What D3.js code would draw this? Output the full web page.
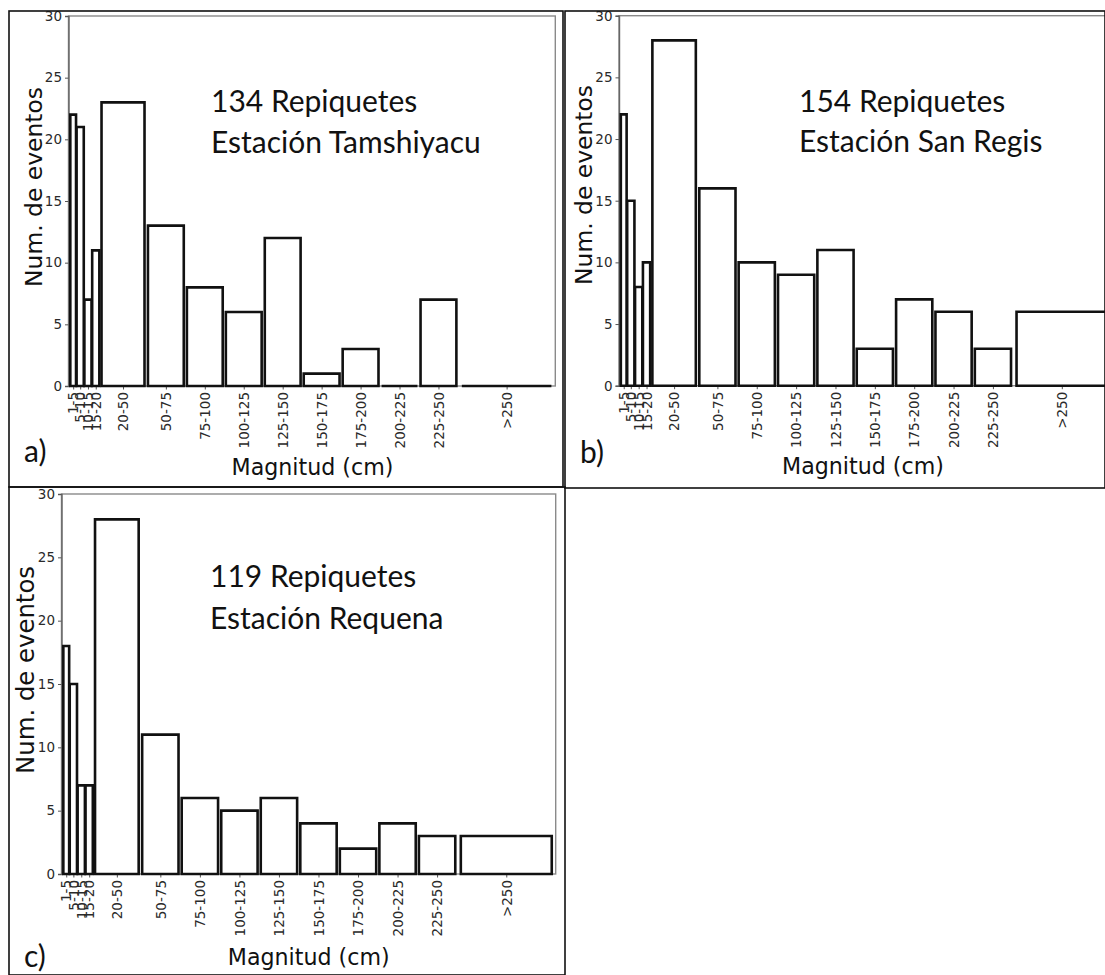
<!DOCTYPE html>
<html>
<head>
<meta charset="utf-8">
<script src="https://cdn.jsdelivr.net/npm/d3@7"></script>
<style>
  body { margin: 0; background: #fff; }
  svg { display: block; }
</style>
</head>
<body>
<div id="chart"></div>
<script>
// magnitude bins (cm) and event counts per station
var binLabels = ['1-5','5-10','10-15','15-20','20-50','50-75','75-100','100-125','125-150','150-175','175-200','200-225','225-250','>250'];
var binLo = [1, 5, 10, 15, 20, 50, 75, 100, 125, 150, 175, 200, 225, 250];
var binHi = [5, 10, 15, 20, 50, 75, 100, 125, 150, 175, 200, 225, 250, 312.5];

var tamshiyacu = [22, 21, 7, 11, 23, 13, 8, 6, 12, 1, 3, 0, 7, 0];
var sanRegis   = [22, 15, 8, 10, 28, 16, 10, 9, 11, 3, 7, 6, 3, 6];
var requena    = [18, 15, 7, 7, 28, 11, 6, 5, 6, 4, 2, 4, 3, 3];

var yTicks = [0, 5, 10, 15, 20, 25, 30];
var stations = ['Estación Tamshiyacu', 'Estación San Regis', 'Estación Requena'];
var letters = ['a)', 'b)', 'c)'];
var xTitle = 'Magnitud (cm)';
var yTitle = 'Num. de eventos';

var W = 1105, H = 975;
var barFrac = 0.92;      // bar width as part of the bin
var noteFont = 'Lato, Carlito, Calibri, sans-serif';
var mplFont = '"DejaVu Sans", sans-serif';

// where each pasted figure sits on the page
var layout = [
  {counts: tamshiyacu, frame: [9, 11, 563, 487], plot: [68.5, 16, 555.3, 386],
   ylab: [42, 187], xlab: [312.5, 475], letter: [24, 462], note: [211, 112, 153]},
  {counts: sanRegis, frame: [565, 11, 1105, 488], plot: [619, 15.7, 1111, 385.7],
   ylab: [592, 185], xlab: [863, 474], letter: [580, 463], note: [799, 112, 152]},
  {counts: requena, frame: [9, 487, 565, 975], plot: [61.5, 494, 555.7, 874],
   ylab: [34, 670], xlab: [308.7, 965], letter: [24, 967], note: [210, 587, 629]}
];

var svg = d3.select('#chart')
  .append('svg')
  .attr('width', W)
  .attr('height', H);

svg.append('rect')
  .attr('width', W)
  .attr('height', H)
  .attr('fill', '#fff');

function fitText(sel, width) {
  var len = sel.node().getComputedTextLength();
  var fs = parseFloat(sel.attr('font-size'));
  sel.attr('font-size', fs * width / len);
}

function drawPanel(p, i) {
  var g = svg.append('g');
  var L = p.plot[0], T = p.plot[1], R = p.plot[2], B = p.plot[3];

  var x = d3.scaleLinear().domain([0, 312.5]).range([L, R]);
  var y = d3.scaleLinear().domain([0, 30]).range([B, T]);

  // plot box (spines)
  g.append('rect')
    .attr('x', L).attr('y', T)
    .attr('width', R - L).attr('height', B - T)
    .attr('fill', 'none')
    .attr('stroke', '#8a8a8a')
    .attr('stroke-width', 1.4);

  // y axis
  var yAxis = g.append('g')
    .attr('transform', 'translate(' + L + ',0)')
    .call(d3.axisLeft(y).tickValues(yTicks).tickSize(3.5).tickPadding(3));
  yAxis.select('.domain').attr('stroke', '#666').attr('stroke-width', 1.4);
  yAxis.selectAll('.tick line').attr('stroke', '#555');
  yAxis.selectAll('.tick text')
    .style('font-family', mplFont)
    .style('font-size', '13.5px')
    .attr('fill', '#2a2a2a');

  // x ticks at bin centres
  var centers = binLo.map(function(lo, k) { return (lo + binHi[k]) / 2; });
  var xAxis = g.append('g')
    .attr('transform', 'translate(0,' + B + ')')
    .call(d3.axisBottom(x).tickValues(centers).tickSize(3.5).tickPadding(3)
      .tickFormat(function(d, k) { return binLabels[k]; }));
  xAxis.select('.domain').remove();
  xAxis.selectAll('.tick line').attr('stroke', '#555');
  xAxis.selectAll('.tick text')
    .style('font-family', mplFont)
    .style('font-size', '13.5px')
    .attr('fill', '#2a2a2a')
    .attr('text-anchor', 'end')
    .attr('transform', 'translate(0,6) rotate(-90)')
    .attr('x', 0)
    .attr('y', 0)
    .attr('dx', 0)
    .attr('dy', '0.35em');

  // bars (as paths, so empty bins still show a flat line)
  g.selectAll('path.bar')
    .data(p.counts)
    .enter()
    .append('path')
    .attr('class', 'bar')
    .attr('d', function(d, k) {
      var c = (binLo[k] + binHi[k]) / 2, half = (binHi[k] - binLo[k]) * barFrac / 2;
      var x0 = x(c - half), x1 = x(c + half);
      return 'M' + x0 + ',' + y(0) + 'V' + y(d) + 'H' + x1 + 'V' + y(0) + 'Z';
    })
    .attr('fill', '#fff')
    .attr('stroke', '#111')
    .attr('stroke-width', 2.6)
    .attr('stroke-linejoin', 'miter');

  // axis titles
  var yl = g.append('text')
    .attr('transform', 'translate(' + p.ylab[0] + ',' + p.ylab[1] + ') rotate(-90)')
    .attr('text-anchor', 'middle')
    .attr('font-family', mplFont)
    .attr('font-size', 24)
    .attr('fill', '#111')
    .text(yTitle);
  fitText(yl, i == 2 ? 208 : 200);

  var xl = g.append('text')
    .attr('x', p.xlab[0])
    .attr('y', p.xlab[1])
    .attr('text-anchor', 'middle')
    .attr('font-family', mplFont)
    .attr('font-size', 22)
    .attr('fill', '#111')
    .text(xTitle);
  fitText(xl, 162);

  // annotation
  g.append('text')
    .attr('x', p.note[0])
    .attr('y', p.note[1])
    .attr('font-family', noteFont)
    .attr('font-size', 30)
    .attr('fill', '#111')
    .text(d3.sum(p.counts) + ' Repiquetes');
  g.append('text')
    .attr('x', p.note[0])
    .attr('y', p.note[2])
    .attr('font-family', noteFont)
    .attr('font-size', 30)
    .attr('fill', '#111')
    .text(stations[i]);

  g.append('text')
    .attr('x', p.letter[0])
    .attr('y', p.letter[1])
    .attr('font-family', noteFont)
    .attr('font-size', 30)
    .attr('fill', '#111')
    .text(letters[i]);

  // outer frame of the pasted figure
  svg.append('rect')
    .attr('x', p.frame[0]).attr('y', p.frame[1])
    .attr('width', p.frame[2] - p.frame[0])
    .attr('height', p.frame[3] - p.frame[1])
    .attr('fill', 'none')
    .attr('stroke', '#111')
    .attr('stroke-width', 1.6);
}

layout.forEach(drawPanel);
</script>
</body>
</html>
